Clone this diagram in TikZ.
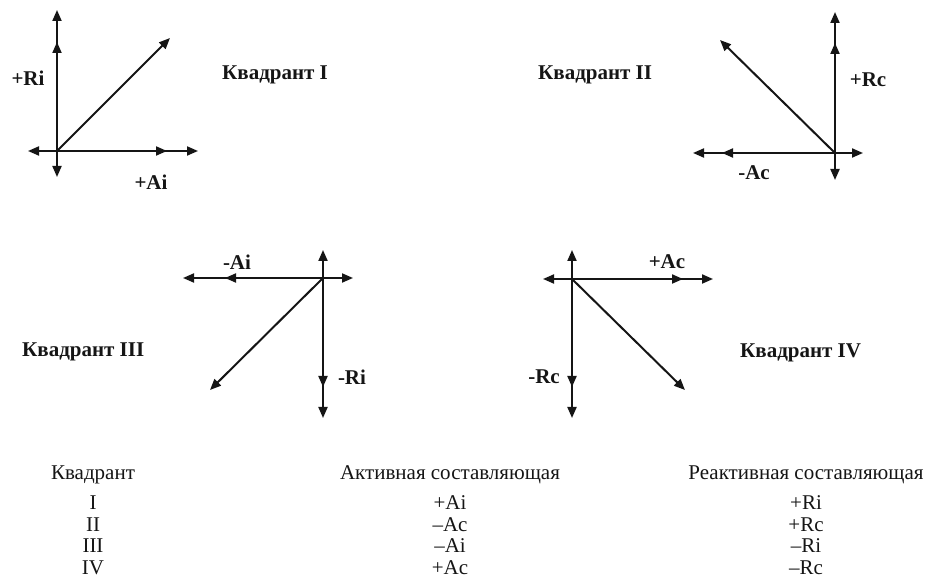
\documentclass[tikz,border=0pt]{standalone}
\usepackage{fontspec}
\setmainfont{Liberation Serif}
\usepackage{xcolor}
\usepackage{tikz}
\usetikzlibrary{arrows.meta}
\definecolor{ink}{HTML}{151515}

\tikzset{
  vec/.style={draw=ink,line width=2pt,-{Triangle[length=11pt,width=9pt]}},
  lbl/.style={font=\bfseries\fontsize{21}{24}\selectfont,text=ink,inner sep=0pt},
  quadname/.style={font=\bfseries\fontsize{21}{24}\selectfont,text=ink,inner sep=0pt,anchor=west},
  cell/.style={font=\fontsize{21}{23}\selectfont,text=ink,inner sep=0pt}
}

\begin{document}
\begin{tikzpicture}[x=1pt,y=-1pt]
  \useasboundingbox (0,0) rectangle (935,577);

  % quadrant I
  \coordinate (o1) at (57,151);
  \coordinate (o1n) at (57,10);   \coordinate (o1nn) at (57,42);
  \coordinate (o1s) at (57,177);  \coordinate (o1w) at (28,151);
  \coordinate (o1e) at (198,151); \coordinate (o1ee) at (167,151);
  \coordinate (o1d) at (170,38);
  \foreach \t in {o1n,o1nn,o1s,o1w,o1e,o1ee,o1d} \draw[vec] (o1) -- (\t);
  \node[lbl] (ri1) at (28,78) {+Ri};
  \node[lbl] (ai1) at (151,182) {+Ai};
  \node[quadname] (kv1) at (222,75) {Квадрант I};

  % quadrant II
  \coordinate (o2) at (835,153);
  \coordinate (o2n) at (835,12);  \coordinate (o2nn) at (835,43);
  \coordinate (o2s) at (835,180); \coordinate (o2e) at (863,153);
  \coordinate (o2w) at (693,153); \coordinate (o2ww) at (722,153);
  \coordinate (o2d) at (720,40);
  \foreach \t in {o2n,o2nn,o2s,o2e,o2w,o2ww,o2d} \draw[vec] (o2) -- (\t);
  \node[lbl] (rc2) at (868,80) {+Rc};
  \node[lbl] (ac2) at (754,173) {-Ac};
  \node[quadname] (kv2) at (538,75) {Квадрант II};

  % quadrant III
  \coordinate (o3) at (323,278);
  \coordinate (o3n) at (323,250); \coordinate (o3e) at (353,278);
  \coordinate (o3s) at (323,418); \coordinate (o3ss) at (323,387);
  \coordinate (o3w) at (183,278); \coordinate (o3ww) at (225,278);
  \coordinate (o3d) at (210,390);
  \foreach \t in {o3n,o3e,o3s,o3ss,o3w,o3ww,o3d} \draw[vec] (o3) -- (\t);
  \node[lbl] (ai3) at (237,262) {-Ai};
  \node[lbl] (ri3) at (352,377) {-Ri};
  \node[quadname] (kv3) at (22,352) {Квадрант III};

  % quadrant IV
  \coordinate (o4) at (572,279);
  \coordinate (o4n) at (572,250); \coordinate (o4w) at (543,279);
  \coordinate (o4s) at (572,418); \coordinate (o4ss) at (572,387);
  \coordinate (o4e) at (713,279); \coordinate (o4ee) at (683,279);
  \coordinate (o4d) at (685,390);
  \foreach \t in {o4n,o4w,o4s,o4ss,o4e,o4ee,o4d} \draw[vec] (o4) -- (\t);
  \node[lbl] (ac4) at (667,262) {+Ac};
  \node[lbl] (rc4) at (544,377) {-Rc};
  \node[quadname] (kv4) at (740,353) {Квадрант IV};

  % table
  \node[cell] (hq) at (93,475) {Квадрант};
  \node[cell] (ha) at (450,475) {Активная составляющая};
  \node[cell] (hr) at (806,475) {Реактивная составляющая};
  \foreach \q/\a/\r [count=\i] in {I/+Ai/+Ri, II/\textendash Ac/+Rc,
      III/\textendash Ai/\textendash Ri, IV/+Ac/\textendash Rc} {
    \node[cell] (q\i) at (93,481.5+21.5*\i) {\q};
    \node[cell] (a\i) at (450,481.5+21.5*\i) {\a};
    \node[cell] (r\i) at (806,481.5+21.5*\i) {\r};
  }
\end{tikzpicture}
\end{document}
